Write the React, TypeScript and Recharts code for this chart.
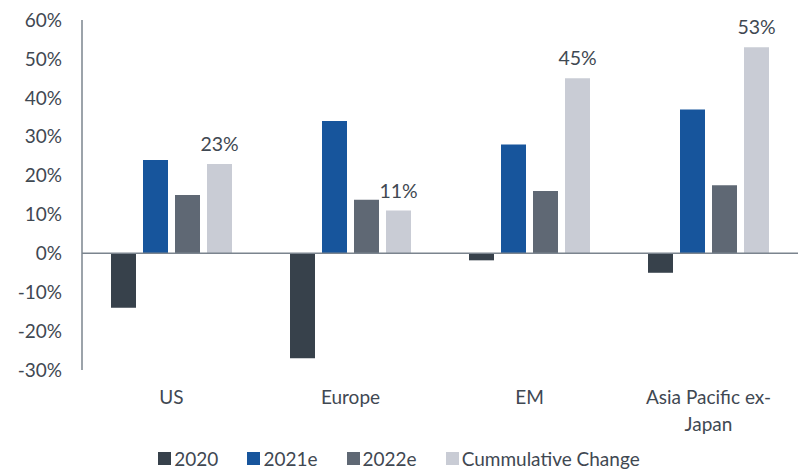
import { BarChart, Bar, XAxis, YAxis, ReferenceLine, Legend, LabelList } from "recharts";

const regions = ["US", "Europe", "EM", "Asia Pacific ex-Japan"];
const growth2020 = [-14, -27, -1.8, -5];
const growth2021e = [24, 34, 28, 37];
const growth2022e = [15, 13.8, 16, 17.5];
const cumulative = [23, 11, 45, 53];
const yTicks = [-30, -20, -10, 0, 10, 20, 30, 40, 50, 60];

const seriesNames = ["2020", "2021e", "2022e", "Cummulative Change"];
const seriesColors = ["#37414b", "#17559c", "#5f6874", "#c9ccd5"];

const textColor = "#3f4852";
const axisColor = "#7b848e";
const font = "Lato, 'Open Sans', sans-serif";

const data = regions.map((r, i) => ({
  region: r,
  y2020: growth2020[i],
  y2021: growth2021e[i],
  y2022: growth2022e[i],
  cum: cumulative[i],
}));

function RegionTick(props: any) {
  const { x, y, payload } = props;
  const label: string = payload.value;
  const idx = label.indexOf("ex-");
  const lines = idx >= 0 ? [label.slice(0, idx + 3), label.slice(idx + 3)] : [label];
  return (
    <text x={x} y={y} textAnchor="middle" fill={textColor} fontSize={19} fontFamily={font}>
      {lines.map((l, i) => (
        <tspan key={i} x={x} dy={i === 0 ? 26 : 27}>
          {l}
        </tspan>
      ))}
    </text>
  );
}

function LegendContent() {
  return (
    <div
      style={{
        display: "flex",
        justifyContent: "center",
        alignItems: "center",
        gap: 29,
        fontFamily: font,
        fontSize: 19,
        color: textColor,
        height: 24,
      }}
    >
      {seriesNames.map((n, i) => (
        <div key={n} style={{ display: "flex", alignItems: "center", gap: 3 }}>
          <span style={{ width: 13, height: 13, background: seriesColors[i], display: "inline-block" }} />
          <span>{n}</span>
        </div>
      ))}
    </div>
  );
}

export default function App() {
  const keys = ["y2020", "y2021", "y2022", "cum"];
  return (
    <div style={{ position: "absolute", left: 0, top: 0, width: 798, height: 470, background: "#fff" }}>
      <BarChart
        width={798}
        height={470}
        data={data}
        margin={{ top: 20, right: 0, left: 0, bottom: 0 }}
        barSize={25}
        barGap={7}
      >
        <YAxis
          domain={[-30, 60]}
          ticks={yTicks}
          interval={0}
          width={82}
          tickLine={false}
          axisLine={{ stroke: axisColor, strokeWidth: 1.5 }}
          tickFormatter={(v) => `${v}%`}
          tick={{ fill: textColor, fontSize: 19, fontFamily: font, dx: -12 }}
        />
        <XAxis
          dataKey="region"
          height={76}
          axisLine={false}
          tickLine={false}
          interval={0}
          tick={<RegionTick />}
        />
        <ReferenceLine y={0} stroke={axisColor} strokeWidth={1.5} />
        <Legend verticalAlign="bottom" height={24} content={<LegendContent />} />
        {keys.map((k, i) => (
          <Bar
            key={k}
            dataKey={k}
            name={seriesNames[i]}
            fill={seriesColors[i]}
            isAnimationActive={false}
          >
            {k === "cum" ? (
              <LabelList
                dataKey="cum"
                position="top"
                offset={13}
                formatter={(v: any) => `${Math.round(Number(v))}%`}
                style={{ fill: textColor, fontSize: 19.5, fontFamily: font }}
              />
            ) : null}
          </Bar>
        ))}
      </BarChart>
    </div>
  );
}
